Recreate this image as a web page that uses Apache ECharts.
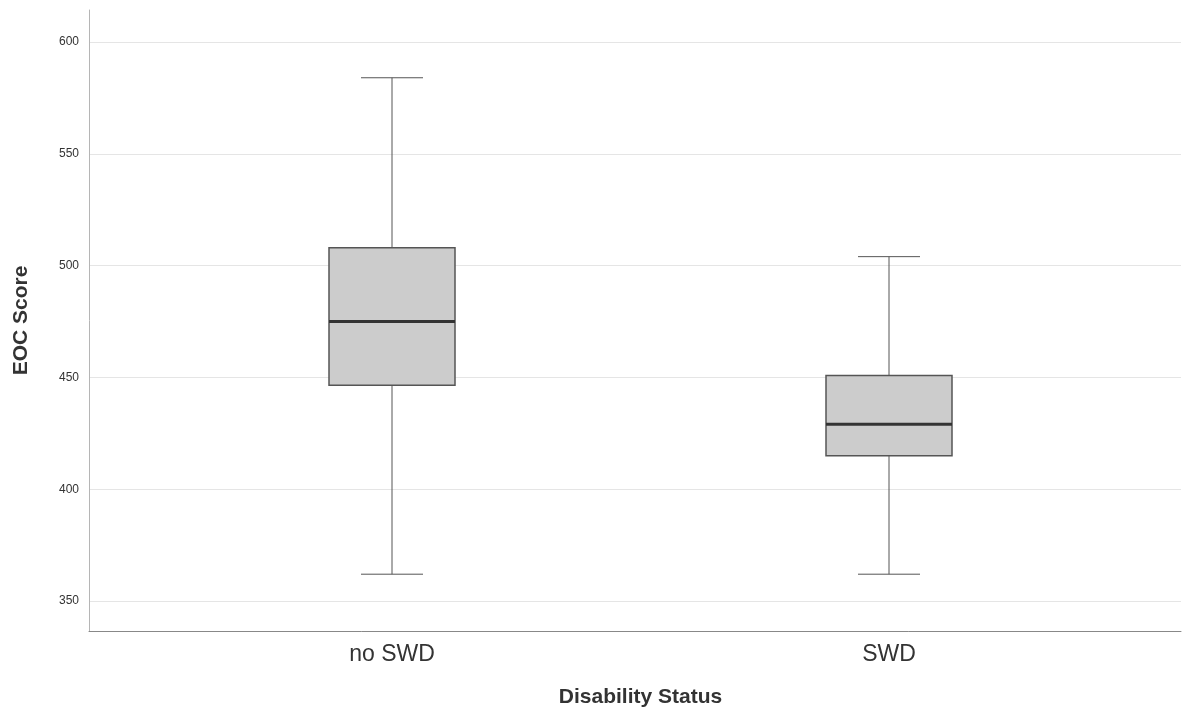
<!DOCTYPE html>
<html><head><meta charset="utf-8">
<script src="https://cdn.jsdelivr.net/npm/echarts@6/dist/echarts.min.js"></script>
<style>html,body{margin:0;padding:0;background:#fff}#c{width:1182px;height:710px}</style>
</head><body><div id="c"></div>
<script>
const categories = ['no SWD', 'SWD'];
const whiskerLow = [362, 362];
const q1 = [446.5, 415];
const median = [475, 429];
const q3 = [508, 450.8];
const whiskerHigh = [584, 504];
const yTicks = [350, 400, 450, 500, 550, 600];

const data = categories.map((c, i) => [i, whiskerLow[i], q1[i], median[i], q3[i], whiskerHigh[i]]);
const YMIN = 336.6, YMAX = 614.3;
const FONT = 'Liberation Sans, Arial, sans-serif';

const chart = echarts.init(document.getElementById('c'));
chart.setOption({
  animation: false,
  grid: [
    {left: 89, right: 1, top: 10, bottom: 79, outerBoundsMode: 'none', containLabel: false},
    {left: 143.5, right: 44.5, top: 10, bottom: 79, outerBoundsMode: 'none', containLabel: false}
  ],
  xAxis: [
    {gridIndex: 0, type: 'value', min: 0, max: 1, axisLine: {show: true, lineStyle: {color: '#888', width: 1}},
     axisTick: {show: false}, axisLabel: {show: false}, splitLine: {show: false}},
    {gridIndex: 1, type: 'category', data: categories, axisLine: {show: false}, axisTick: {show: false},
     axisLabel: {fontSize: 23, color: '#333', fontFamily: FONT, margin: 12},
     name: 'Disability Status', nameLocation: 'middle', nameGap: 66, nameMoveOverlap: false,
     nameTextStyle: {fontSize: 21, fontWeight: 'bold', color: '#333', fontFamily: FONT,
       verticalAlign: 'middle'}}
  ],
  yAxis: [
    {gridIndex: 0, type: 'value', min: YMIN, max: YMAX,
     axisLine: {show: true, lineStyle: {color: '#b5b5b5', width: 1}},
     axisTick: {show: false, customValues: yTicks},
     axisLabel: {fontSize: 12, color: '#333', fontFamily: FONT, margin: 10, customValues: yTicks},
     splitLine: {show: true, lineStyle: {color: '#e5e5e5', width: 1}},
     name: 'EOC Score', nameLocation: 'middle', nameGap: 57, nameRotate: 90, nameMoveOverlap: false,
     nameTextStyle: {fontSize: 21, fontWeight: 'bold', color: '#333', fontFamily: FONT}},
    {gridIndex: 1, type: 'value', min: YMIN, max: YMAX, show: false, splitLine: {show: false}}
  ],
  series: [{
    type: 'custom', xAxisIndex: 1, yAxisIndex: 1, data: data,
    renderItem: function (params, api) {
      const x = api.value(0);
      const pLo = api.coord([x, api.value(1)]);
      const pQ1 = api.coord([x, api.value(2)]);
      const pMed = api.coord([x, api.value(3)]);
      const pQ3 = api.coord([x, api.value(4)]);
      const pHi = api.coord([x, api.value(5)]);
      const cx = pLo[0], hw = 63, cw = 31;
      const ls = {stroke: '#555', lineWidth: 1};
      return {type: 'group', children: [
        {type: 'line', shape: {x1: cx, y1: pHi[1], x2: cx, y2: pQ3[1]}, style: ls},
        {type: 'line', shape: {x1: cx, y1: pQ1[1], x2: cx, y2: pLo[1]}, style: ls},
        {type: 'line', shape: {x1: cx - cw, y1: pHi[1], x2: cx + cw, y2: pHi[1]}, style: ls},
        {type: 'line', shape: {x1: cx - cw, y1: pLo[1], x2: cx + cw, y2: pLo[1]}, style: ls},
        {type: 'rect', shape: {x: cx - hw, y: pQ3[1], width: 2 * hw, height: pQ1[1] - pQ3[1]},
         style: {fill: '#cccccc', stroke: '#555', lineWidth: 1.5}},
        {type: 'line', shape: {x1: cx - hw, y1: pMed[1], x2: cx + hw, y2: pMed[1]},
         style: {stroke: '#333', lineWidth: 3}}
      ]};
    }
  }]
});
</script></body></html>
